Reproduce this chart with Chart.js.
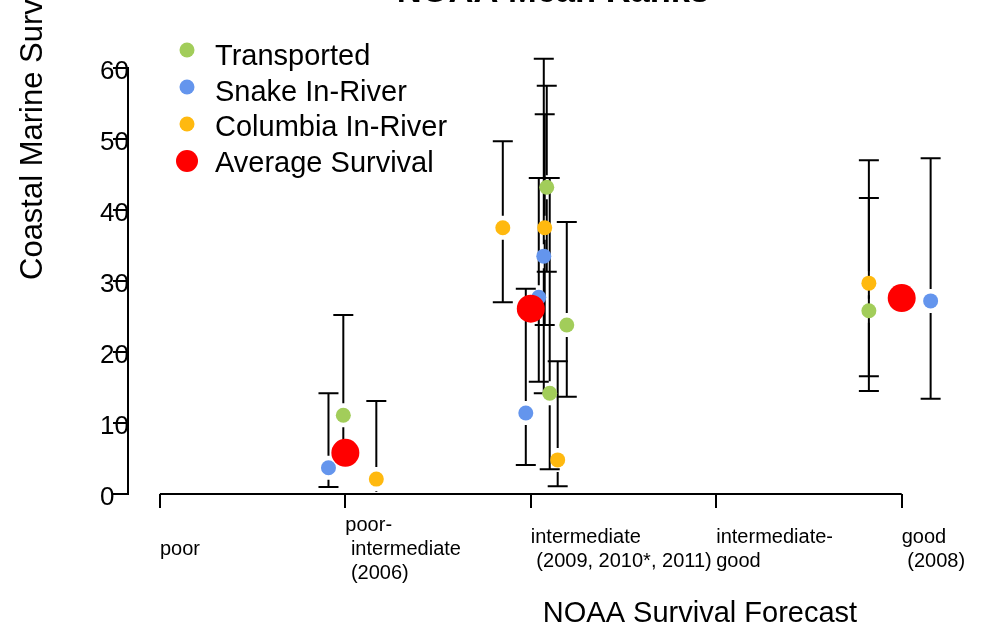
<!DOCTYPE html>
<html>
<head>
<meta charset="utf-8">
<title>NOAA Mean Ranks</title>
<script src="https://cdn.jsdelivr.net/npm/chart.js@4.4.0/dist/chart.umd.min.js"></script>
<style>
    html, body { margin: 0; padding: 0; background: #fff; }
    canvas { display: block; }
</style>
</head>
<body>
<canvas id="ranksChart" width="984" height="625"></canvas>
<script>
// Forecast categories on the x axis (1..5)
const forecastTicks = [1, 2, 3, 4, 5];
const forecastLabels = [
    'poor',
    ['poor-', ' intermediate', ' (2006)'],
    ['intermediate', ' (2009, 2010*, 2011)'],
    ['intermediate-', 'good'],
    ['good', ' (2008)']
];
const rankTicks = [0, 10, 20, 30, 40, 50, 60];

// Transported
const transportedX = [1.989, 3.086, 3.102, 3.194, 4.823];
const transportedRank = [11.1, 43.2, 14.2, 23.8, 25.8];
const transportedLow = [5.1, 31.3, 3.5, 13.7, 14.5];
const transportedHigh = [25.2, 57.5, 44.5, 38.3, 41.7];

// Snake In-River
const snakeX = [1.909, 2.973, 3.043, 3.070, 5.156];
const snakeRank = [3.7, 11.4, 27.7, 33.5, 27.2];
const snakeLow = [1.0, 4.1, 15.8, 14.2, 13.4];
const snakeHigh = [14.2, 28.9, 44.5, 61.3, 47.3];

// Columbia In-River
const columbiaX = [2.167, 2.849, 3.075, 3.145, 4.823];
const columbiaRank = [2.1, 37.5, 37.5, 4.8, 29.7];
const columbiaLow = [0.3, 27.0, 23.8, 1.1, 16.6];
const columbiaHigh = [13.1, 49.7, 53.5, 18.7, 47.0];

// Average Survival
const averageX = [2, 3, 5];
const averageRank = [5.8, 26.1, 27.6];

function toPoints(xs, ys, lows, highs) {
    return xs.map((x, i) => ({
        x: x,
        y: ys[i],
        low: lows ? lows[i] : undefined,
        high: highs ? highs[i] : undefined
    }));
}

// one half of an error bar, cap at the far end
function whisker(ctx, px, from, to) {
    ctx.beginPath();
    ctx.moveTo(px, from);
    ctx.lineTo(px, to);
    if (Math.abs(to - from) > 4) {
        ctx.moveTo(px - 10, to);
        ctx.lineTo(px + 10, to);
    }
    ctx.stroke();
}

const gap = 12;

// error bars + x axis line
const errorBars = {
    id: 'errorBars',
    beforeDatasetsDraw(chart) {
        const { ctx, scales: { x, y } } = chart;
        ctx.save();
        ctx.strokeStyle = '#000';
        ctx.lineWidth = 2;

        ctx.beginPath();
        ctx.moveTo(x.getPixelForValue(forecastTicks[0]), y.getPixelForValue(0));
        ctx.lineTo(x.getPixelForValue(forecastTicks[forecastTicks.length - 1]), y.getPixelForValue(0));
        ctx.stroke();

        chart.data.datasets.forEach(ds => {
            ds.data.forEach(p => {
                if (p.low === undefined) return;
                const px = x.getPixelForValue(p.x);
                const py = y.getPixelForValue(p.y);
                const top = y.getPixelForValue(p.high);
                const bottom = y.getPixelForValue(p.low);
                if (top < py - gap) whisker(ctx, px, py - gap, top);
                if (bottom > py + gap) whisker(ctx, px, py + gap, bottom);
            });
        });
        ctx.restore();
    }
};

// title, axis titles and legend
const decorations = {
    id: 'decorations',
    afterDraw(chart) {
        const ctx = chart.ctx;
        ctx.save();
        ctx.fillStyle = '#000';
        ctx.textBaseline = 'alphabetic';

        ctx.font = 'bold 34.5px "Liberation Sans", Arial, sans-serif';
        ctx.textAlign = 'center';
        ctx.fillText('NOAA Mean Ranks', 553, 2);

        ctx.font = '29px "Liberation Sans", Arial, sans-serif';
        ctx.fillText('NOAA Survival Forecast', 700, 622);

        ctx.save();
        ctx.font = '31px "Liberation Sans", Arial, sans-serif';
        ctx.translate(42, 280);
        ctx.rotate(-Math.PI / 2);
        ctx.textAlign = 'left';
        ctx.fillText('Coastal Marine Survival', 0, 0);
        ctx.restore();

        ctx.textAlign = 'left';
        chart.data.datasets.forEach((ds, i) => {
            ctx.fillStyle = ds.backgroundColor;
            ctx.beginPath();
            ctx.arc(187, 50 + i * 37, ds.legendRadius, 0, Math.PI * 2);
            ctx.fill();
            ctx.fillStyle = '#000';
            ctx.fillText(ds.label, 215, 65 + i * 35.7);
        });
        ctx.restore();
    }
};

Chart.defaults.font.family = '"Liberation Sans", Arial, sans-serif';
Chart.defaults.color = '#000';

new Chart(document.getElementById('ranksChart'), {
    type: 'scatter',
    data: {
        datasets: [
            {
                label: 'Transported',
                data: toPoints(transportedX, transportedRank, transportedLow, transportedHigh),
                backgroundColor: '#A2CD5A',
                pointRadius: 7.5,
                legendRadius: 7.5,
                order: 1
            },
            {
                label: 'Snake In-River',
                data: toPoints(snakeX, snakeRank, snakeLow, snakeHigh),
                backgroundColor: '#6495ED',
                pointRadius: 7.5,
                legendRadius: 7.5,
                order: 2
            },
            {
                label: 'Columbia In-River',
                data: toPoints(columbiaX, columbiaRank, columbiaLow, columbiaHigh),
                backgroundColor: '#FFB90F',
                pointRadius: 7.5,
                legendRadius: 7.5,
                order: 3
            },
            {
                label: 'Average Survival',
                data: toPoints(averageX, averageRank),
                backgroundColor: '#FF0000',
                pointRadius: 14,
                legendRadius: 11,
                order: 0
            }
        ]
    },
    options: {
        responsive: false,
        animation: false,
        layout: {
            padding: { left: 100, right: 36, top: 68, bottom: 0 }
        },
        elements: {
            point: { borderWidth: 0, hoverRadius: 0 }
        },
        datasets: {
            scatter: { clip: false }
        },
        plugins: {
            legend: { display: false },
            tooltip: { enabled: false }
        },
        scales: {
            x: {
                type: 'linear',
                min: 1 - 32 / 186,
                max: 5 + 44 / 186,
                afterBuildTicks: scale => {
                    scale.ticks = forecastTicks.map(v => ({ value: v }));
                },
                afterFit: scale => { scale.height = 131; },
                border: { display: false },
                grid: {
                    drawOnChartArea: false,
                    drawTicks: true,
                    tickLength: 14,
                    color: '#000',
                    lineWidth: 2
                },
                ticks: {
                    autoSkip: false,
                    maxRotation: 0,
                    minRotation: 0,
                    align: 'start',
                    crossAlign: 'center',
                    padding: 17,
                    font: { size: 20, lineHeight: 1.2 },
                    callback: (value, index) => forecastLabels[index]
                }
            },
            y: {
                min: 0,
                max: 60,
                afterBuildTicks: scale => {
                    scale.ticks = rankTicks.map(v => ({ value: v }));
                },
                afterFit: scale => { scale.width = 28; },
                border: { display: true, color: '#000', width: 2 },
                grid: {
                    drawOnChartArea: false,
                    drawTicks: true,
                    tickLength: 15,
                    color: '#000',
                    lineWidth: 2
                },
                ticks: {
                    crossAlign: 'far',
                    labelOffset: 4,
                    font: { size: 26 }
                }
            }
        }
    },
    plugins: [errorBars, decorations]
});
</script>
</body>
</html>
